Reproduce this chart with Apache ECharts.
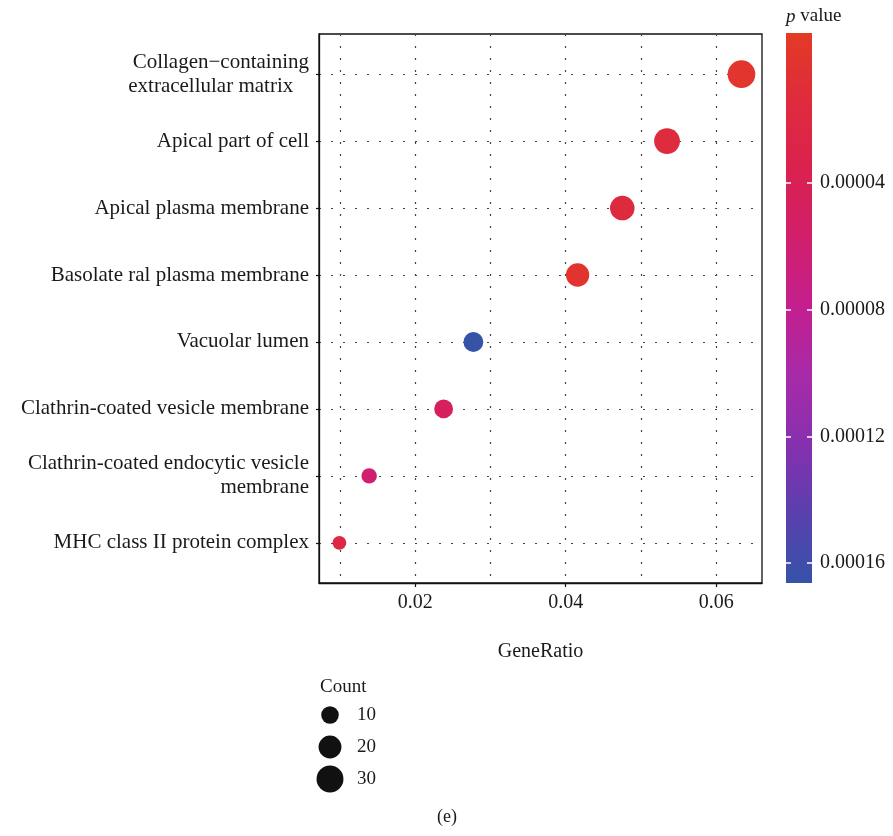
<!DOCTYPE html>
<html><head><meta charset="utf-8">
<script src="https://cdn.jsdelivr.net/npm/echarts@6/dist/echarts.min.js"></script>
<style>html,body{margin:0;padding:0;background:#fff}#c{width:893px;height:836px}</style>
</head><body><div id="c"></div>
<script>
// ---- data ----
const categories = [
  'MHC class II protein complex',
  'Clathrin-coated endocytic vesicle\nmembrane',
  'Clathrin-coated vesicle membrane',
  'Vacuolar lumen',
  'Basolate ral plasma membrane',
  'Apical plasma membrane',
  'Apical part of cell',
  'Collagen\u2212containing\nextracellular matrix\u00a0\u00a0\u00a0'
];
const geneRatio = [0.0099, 0.01386, 0.02376, 0.02772, 0.04158, 0.04752, 0.05347, 0.06337];
const counts    = [5, 7, 12, 14, 21, 24, 27, 32];
const pValues   = [0.000024, 0.000060, 0.000046, 0.000166, 0.000002, 0.000017, 0.000015, 0.0000005];
const xTickValues = [0.02, 0.04, 0.06];
const xGridValues = [0.01, 0.02, 0.03, 0.04, 0.05, 0.06];
const colorTickValues = [0.00004, 0.00008, 0.00012, 0.00016];
const legendCounts = [10, 20, 30];

// ---- scales / layout ----
const X_MIN = 0.00719, X_MAX = 0.0661;
const Y_MIN = -0.6, Y_MAX = 7.6;
const P_MIN = -0.0000074, P_MAX = 0.0001663;
const palette = ['#E33A25','#DF2B3D','#DA2150','#D11F6C','#C31F8F','#A72BA8','#8530AF','#5A40AD','#3553A8'];
const FONT = 'Liberation Serif';
const TXT = '#1a1a1a';
const plot = {left: 319, top: 34, width: 443, height: 549};
const cbar = {left: 786, top: 33, width: 26, height: 550};
const dotted = {color: '#444', width: 1.2, type: [2, 10]};
function radius(c) { return 2.4 + 2.02 * Math.sqrt(c); }

const chart = echarts.init(document.getElementById('c'), null, {renderer: 'canvas'});
const yIdx = categories.map((_, i) => i);

chart.setOption({
  backgroundColor: '#fff',
  animation: false,
  grid: [
    Object.assign({show: true, borderColor: '#111', borderWidth: 1.3, outerBoundsMode: 'none', containLabel: false}, plot),
    {left: 318, top: 699, width: 24, height: 96, outerBoundsMode: 'none'},
    Object.assign({outerBoundsMode: 'none'}, cbar)
  ],
  xAxis: [
    {gridIndex: 0, type: 'value', min: X_MIN, max: X_MAX, position: 'bottom',
     axisLine: {show: true, onZero: false, lineStyle: {color: '#111', width: 1.3}},
     axisTick: {show: true, length: 4, lineStyle: {color: '#111', width: 1.2}, customValues: xTickValues},
     axisLabel: {show: true, customValues: xTickValues, formatter: v => v.toFixed(2), fontFamily: FONT, fontSize: 20, color: TXT, margin: 10},
     splitLine: {show: false},
     name: 'GeneRatio', nameLocation: 'middle', nameGap: 59,
     nameTextStyle: {fontFamily: FONT, fontSize: 20, color: TXT}},
    {gridIndex: 0, type: 'value', min: X_MIN, max: X_MAX, position: 'top',
     axisLine: {show: false, onZero: false}, axisLabel: {show: false},
     axisTick: {show: false, customValues: xGridValues},
     splitLine: {show: true, lineStyle: dotted}},
    {gridIndex: 1, type: 'value', min: -1, max: 1, show: false},
    {gridIndex: 2, type: 'value', min: 0, max: 1, show: false}
  ],
  yAxis: [
    {gridIndex: 0, type: 'value', min: Y_MIN, max: Y_MAX,
     axisLine: {show: true, onZero: false, lineStyle: {color: '#111', width: 1.3}},
     axisTick: {show: true, length: 3, lineStyle: {color: '#111', width: 1.2}, customValues: yIdx},
     axisLabel: {show: true, customValues: yIdx, formatter: v => categories[Math.round(v)],
                 fontFamily: FONT, fontSize: 21, lineHeight: 24, color: TXT, margin: 10, align: 'right'},
     splitLine: {show: true, lineStyle: dotted}},
    {gridIndex: 1, type: 'category', data: legendCounts.map(String), inverse: true, position: 'right',
     axisLine: {show: false}, axisTick: {show: false},
     axisLabel: {fontFamily: FONT, fontSize: 19, color: TXT, margin: 15}},
    {gridIndex: 2, type: 'value', inverse: true, min: P_MIN, max: P_MAX, position: 'right',
     axisLine: {show: false, onZero: false},
     axisTick: {show: true, inside: true, length: 5, lineStyle: {color: '#fff', width: 1.5}, customValues: colorTickValues},
     axisLabel: {show: true, customValues: colorTickValues, formatter: v => v.toFixed(5), fontFamily: FONT, fontSize: 20, color: TXT, margin: 8},
     splitLine: {show: false}, z: 10},
    {gridIndex: 2, type: 'value', inverse: true, min: P_MIN, max: P_MAX, position: 'left',
     axisLine: {show: false, onZero: false},
     axisTick: {show: true, inside: true, length: 5, lineStyle: {color: '#fff', width: 1.5}, customValues: colorTickValues},
     axisLabel: {show: false}, splitLine: {show: false}, z: 10}
  ],
  visualMap: {
    type: 'continuous', show: false, seriesIndex: 0, dimension: 3,
    min: P_MIN, max: P_MAX, inRange: {color: palette.slice()}
  },
  graphic: [
    {type: 'rect', z: -1, shape: {x: cbar.left, y: cbar.top, width: cbar.width, height: cbar.height},
     style: {fill: new echarts.graphic.LinearGradient(0, 0, 0, 1,
        palette.map((c, i) => ({offset: i / (palette.length - 1), color: c})))}},
    {type: 'text', left: 786, top: 7, z: 5,
     style: {text: '{i|p} value', fontFamily: FONT, fontSize: 19, fill: TXT,
             rich: {i: {fontStyle: 'italic', fontFamily: FONT, fontSize: 19, fill: TXT}}}},
    {type: 'text', left: 320, top: 678,
     style: {text: 'Count', fontFamily: FONT, fontSize: 19, fill: TXT}},
    {type: 'text', left: 437, top: 808,
     style: {text: '(e)', fontFamily: FONT, fontSize: 18, fill: TXT}}
  ],
  series: [
    {type: 'scatter', xAxisIndex: 0, yAxisIndex: 0, z: 5,
     data: geneRatio.map((g, i) => [g, i, counts[i], pValues[i]]),
     symbolSize: d => 2 * radius(d[2]),
     itemStyle: {opacity: 1}},
    {type: 'scatter', xAxisIndex: 2, yAxisIndex: 1,
     data: legendCounts.map(c => [0, String(c), c]),
     symbolSize: d => 2 * radius(d[2]),
     itemStyle: {color: '#111', opacity: 1}}
  ]
});
</script></body></html>
